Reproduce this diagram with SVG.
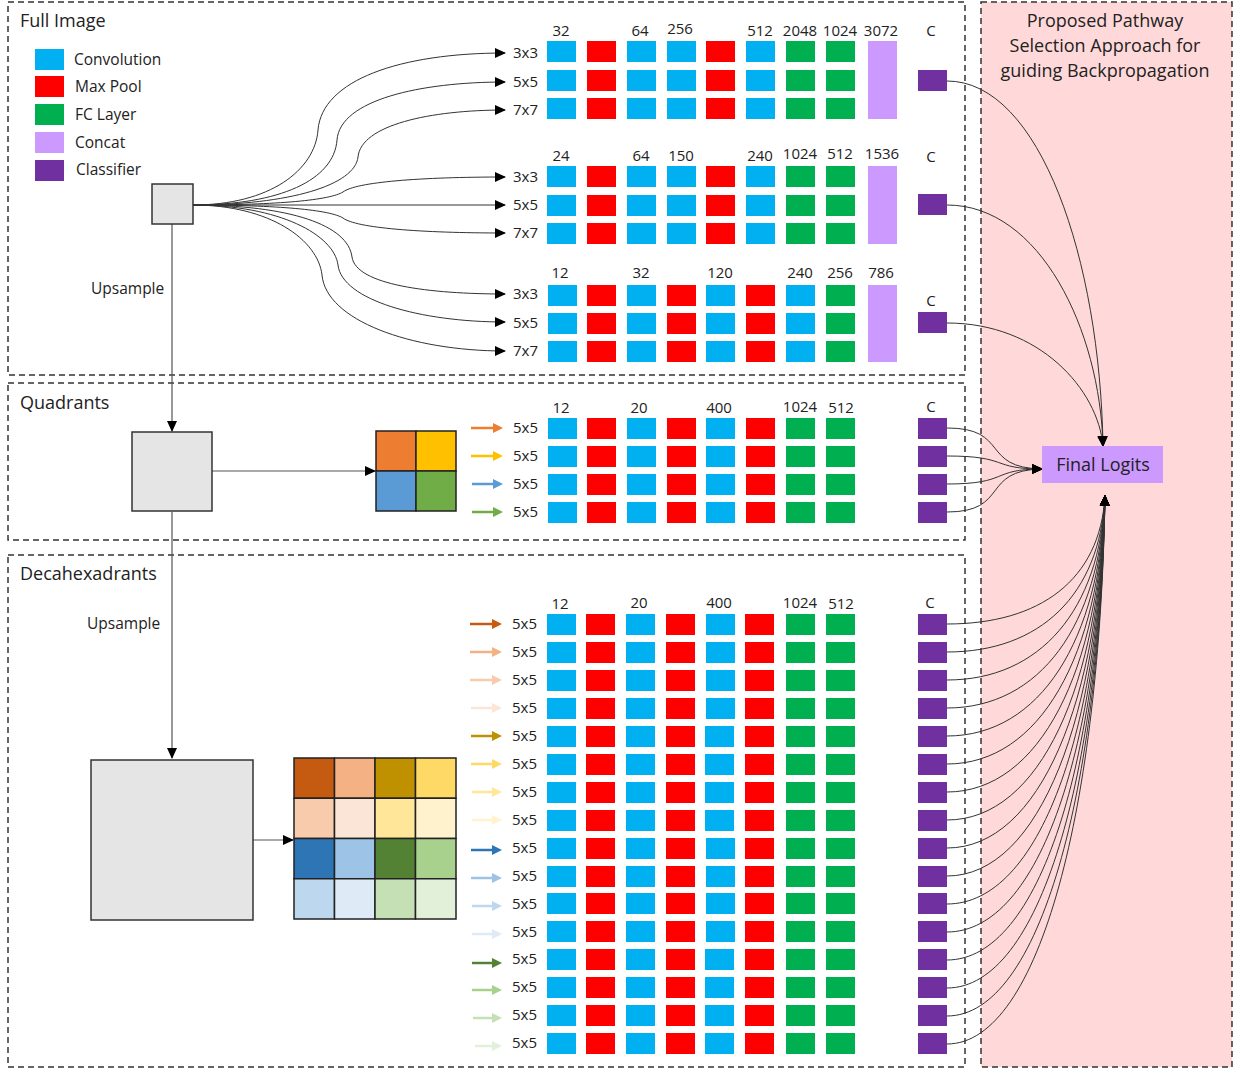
<svg xmlns="http://www.w3.org/2000/svg" xmlns:xlink="http://www.w3.org/1999/xlink" width="1237" height="1070" viewBox="0 0 1237 1070">
<style>
text{font-family:"Open Sans","Noto Sans",sans-serif;fill:#222}
.t{font-size:18px}
.l{font-size:15.5px}
.k{font-size:15px}
.n{font-size:15px;text-anchor:middle}
.p{font-size:18px;text-anchor:middle}
.panel{fill:none;stroke:#333;stroke-width:1.5;stroke-dasharray:6 4}
.cv{fill:#00B0F0}
.mp{fill:#FF0000}
.fc{fill:#00B050}
.cc{fill:#CC99FF}
.cl{fill:#7030A0}
.img{fill:#E5E5E5;stroke:#333;stroke-width:1.5}
.con{fill:none;stroke:#333;stroke-width:1}
.grid{stroke:#222;stroke-width:1.5}
</style>
<defs>
<marker id="ah" markerWidth="11" markerHeight="10" refX="10" refY="5" orient="auto" markerUnits="userSpaceOnUse"><path d="M0,0 L11,5 L0,10z" fill="#000"/></marker>
<rect id="C" width="29" height="21" class="cv"/>
<rect id="P" width="29" height="21" class="mp"/>
<rect id="F" width="29" height="21" class="fc"/>
<rect id="K" width="29" height="21" class="cl"/>
</defs>

<rect x="981" y="2" width="251" height="1065" fill="#FFD9D9"/>
<rect class="panel" x="981" y="2" width="251" height="1065"/>
<rect class="panel" x="8" y="2" width="957" height="373"/>
<rect class="panel" x="8" y="383" width="957" height="157"/>
<rect class="panel" x="8" y="555" width="957" height="512"/>

<text class="t" x="20" y="27">Full Image</text>
<text class="t" x="20" y="409">Quadrants</text>
<text class="t" x="20" y="580">Decahexadrants</text>
<g id="pathway-title">
<text class="p" x="1105" y="27">Proposed Pathway</text>
<text class="p" x="1105" y="52">Selection Approach  for</text>
<text class="p" x="1105" y="77">guiding Backpropagation</text>
</g>

<g id="legend">
<rect class="cv" x="35" y="49" width="29" height="21"/><text class="l" x="74" y="65">Convolution</text>
<rect class="mp" x="35" y="76" width="29" height="21"/><text class="l" x="75" y="92">Max Pool</text>
<rect class="fc" x="35" y="104" width="29" height="21"/><text class="l" x="75" y="120">FC Layer</text>
<rect class="cc" x="35" y="132" width="29" height="21"/><text class="l" x="75" y="148">Concat</text>
<rect class="cl" x="35" y="160" width="29" height="21"/><text class="l" x="76" y="175">Classifier</text>
</g>

<g id="connectors">
<path class="con" marker-end="url(#ah)" d="M193,205 C270,205 315,170 318,130 C322,80 400,53 505,53"/>
<path class="con" marker-end="url(#ah)" d="M193,205 C280,205 334,180 337,140 C340,100 420,82 505,82"/>
<path class="con" marker-end="url(#ah)" d="M193,205 C290,205 355,185 358,157 C361,125 430,110 505,110"/>
<path class="con" marker-end="url(#ah)" d="M193,205 C280,205 330,200 343,192 C356,182 420,177 505,177"/>
<path class="con" marker-end="url(#ah)" d="M193,205 L505,205"/>
<path class="con" marker-end="url(#ah)" d="M193,205 C280,205 330,210 343,218 C356,228 420,233 505,233"/>
<path class="con" marker-end="url(#ah)" d="M193,205 C290,205 348,225 352,257 C356,285 430,294 505,294"/>
<path class="con" marker-end="url(#ah)" d="M193,205 C280,205 334,235 338,265 C342,300 420,322 505,322"/>
<path class="con" marker-end="url(#ah)" d="M193,205 C270,205 318,240 322,275 C326,320 410,351 505,351"/>
<path fill="none" stroke="#555" stroke-width="1.2" marker-end="url(#ah)" d="M172,224 L172,431"/>
<path fill="none" stroke="#555" stroke-width="1.2" marker-end="url(#ah)" d="M172,512 L172,758"/>
<path fill="none" stroke="#555" stroke-width="1.2" marker-end="url(#ah)" d="M212,471 L375,471"/>
<path fill="none" stroke="#555" stroke-width="1.2" marker-end="url(#ah)" d="M253,840 L293,840"/>
<path class="con" marker-end="url(#ah)" d="M947,81 C1040,81 1100,260 1103,446"/>
<path class="con" marker-end="url(#ah)" d="M947,205 C1040,205 1100,330 1103,446"/>
<path class="con" marker-end="url(#ah)" d="M947,323 C1040,323 1098,390 1103,446"/>
<path class="con" marker-end="url(#ah)" d="M947,428 C1010,428 980,468 1042,469"/>
<path class="con" marker-end="url(#ah)" d="M947,456 C1010,456 990,469 1042,469"/>
<path class="con" marker-end="url(#ah)" d="M947,484 C1010,484 990,469 1042,469"/>
<path class="con" marker-end="url(#ah)" d="M947,512 C1010,512 980,470 1042,469"/>
<path class="con" marker-end="url(#ah)" d="M947,624 C1040,624 1100,580 1105,496"/>
<path class="con" marker-end="url(#ah)" d="M947,652 C1040,652 1100,595 1105,496"/>
<path class="con" marker-end="url(#ah)" d="M947,680 C1040,680 1100,610 1105,496"/>
<path class="con" marker-end="url(#ah)" d="M947,708 C1040,708 1100,625 1105,496"/>
<path class="con" marker-end="url(#ah)" d="M947,736 C1040,736 1100,640 1105,496"/>
<path class="con" marker-end="url(#ah)" d="M947,764 C1040,764 1100,655 1105,496"/>
<path class="con" marker-end="url(#ah)" d="M947,792 C1040,792 1100,670 1105,496"/>
<path class="con" marker-end="url(#ah)" d="M947,820 C1040,820 1100,685 1105,496"/>
<path class="con" marker-end="url(#ah)" d="M947,848 C1040,848 1100,700 1105,496"/>
<path class="con" marker-end="url(#ah)" d="M947,876 C1040,876 1100,715 1105,496"/>
<path class="con" marker-end="url(#ah)" d="M947,904 C1040,904 1100,730 1105,496"/>
<path class="con" marker-end="url(#ah)" d="M947,932 C1040,932 1100,745 1105,496"/>
<path class="con" marker-end="url(#ah)" d="M947,960 C1040,960 1100,760 1105,496"/>
<path class="con" marker-end="url(#ah)" d="M947,988 C1040,988 1100,775 1105,496"/>
<path class="con" marker-end="url(#ah)" d="M947,1016 C1040,1016 1100,790 1105,496"/>
<path class="con" marker-end="url(#ah)" d="M947,1044 C1040,1044 1100,805 1105,496"/>
</g>

<g id="full-image-input"><rect class="img" x="152" y="184" width="41" height="40"/></g>
<text class="l" x="91" y="294">Upsample</text>
<text class="l" x="87" y="629">Upsample</text>
<g id="quadrant-input"><rect class="img" x="132" y="432" width="80" height="79"/></g>
<g id="quadrant-grid" class="grid">
<rect x="376" y="431" width="40" height="40" fill="#ED7D31"/>
<rect x="416" y="431" width="40" height="40" fill="#FFC000"/>
<rect x="376" y="471" width="40" height="40" fill="#5B9BD5"/>
<rect x="416" y="471" width="40" height="40" fill="#70AD47"/>
</g>
<g id="decahex-input"><rect class="img" x="91" y="760" width="162" height="160"/></g>
<g id="decahex-grid" class="grid">
<rect x="294" y="758" width="40.5" height="40.25" fill="#C55A11"/>
<rect x="334.5" y="758" width="40.5" height="40.25" fill="#F4B183"/>
<rect x="375" y="758" width="40.5" height="40.25" fill="#BF9000"/>
<rect x="415.5" y="758" width="40.5" height="40.25" fill="#FFD966"/>
<rect x="294" y="798.25" width="40.5" height="40.25" fill="#F8CBAD"/>
<rect x="334.5" y="798.25" width="40.5" height="40.25" fill="#FBE5D6"/>
<rect x="375" y="798.25" width="40.5" height="40.25" fill="#FFE699"/>
<rect x="415.5" y="798.25" width="40.5" height="40.25" fill="#FFF2CC"/>
<rect x="294" y="838.5" width="40.5" height="40.25" fill="#2E75B6"/>
<rect x="334.5" y="838.5" width="40.5" height="40.25" fill="#9DC3E6"/>
<rect x="375" y="838.5" width="40.5" height="40.25" fill="#548235"/>
<rect x="415.5" y="838.5" width="40.5" height="40.25" fill="#A9D18E"/>
<rect x="294" y="878.75" width="40.5" height="40.25" fill="#BDD7EE"/>
<rect x="334.5" y="878.75" width="40.5" height="40.25" fill="#DEEBF7"/>
<rect x="375" y="878.75" width="40.5" height="40.25" fill="#C5E0B4"/>
<rect x="415.5" y="878.75" width="40.5" height="40.25" fill="#E2F0D9"/>
</g>

<g id="full-branch-1">
<text class="n" x="561" y="36">32</text><text class="n" x="640" y="36">64</text><text class="n" x="680" y="34">256</text><text class="n" x="760" y="36">512</text><text class="n" x="800" y="36">2048</text><text class="n" x="840" y="36">1024</text><text class="n" x="881" y="36">3072</text><text class="n" x="931" y="36">C</text>
<text class="k" x="513" y="58">3x3</text><text class="k" x="513" y="87">5x5</text><text class="k" x="513" y="115">7x7</text>
<use href="#C" x="547" y="41"/><use href="#P" x="587" y="41"/><use href="#C" x="627" y="41"/><use href="#C" x="667" y="41"/><use href="#P" x="706" y="41"/><use href="#C" x="746" y="41"/><use href="#F" x="786" y="41"/><use href="#F" x="826" y="41"/>
<use href="#C" x="547" y="70"/><use href="#P" x="587" y="70"/><use href="#C" x="627" y="70"/><use href="#C" x="667" y="70"/><use href="#P" x="706" y="70"/><use href="#C" x="746" y="70"/><use href="#F" x="786" y="70"/><use href="#F" x="826" y="70"/>
<use href="#C" x="547" y="98"/><use href="#P" x="587" y="98"/><use href="#C" x="627" y="98"/><use href="#C" x="667" y="98"/><use href="#P" x="706" y="98"/><use href="#C" x="746" y="98"/><use href="#F" x="786" y="98"/><use href="#F" x="826" y="98"/>
<rect class="cc" x="868" y="41" width="29" height="78"/>
<use href="#K" x="918" y="70"/>
</g>
<g id="full-branch-2">
<text class="n" x="561" y="161">24</text><text class="n" x="641" y="161">64</text><text class="n" x="681" y="161">150</text><text class="n" x="760" y="161">240</text><text class="n" x="800" y="159">1024</text><text class="n" x="840" y="159">512</text><text class="n" x="882" y="159">1536</text><text class="n" x="931" y="162">C</text>
<text class="k" x="513" y="182">3x3</text><text class="k" x="513" y="210">5x5</text><text class="k" x="513" y="238">7x7</text>
<use href="#C" x="547" y="166"/><use href="#P" x="587" y="166"/><use href="#C" x="627" y="166"/><use href="#C" x="667" y="166"/><use href="#P" x="706" y="166"/><use href="#C" x="746" y="166"/><use href="#F" x="786" y="166"/><use href="#F" x="826" y="166"/>
<use href="#C" x="547" y="195"/><use href="#P" x="587" y="195"/><use href="#C" x="627" y="195"/><use href="#C" x="667" y="195"/><use href="#P" x="706" y="195"/><use href="#C" x="746" y="195"/><use href="#F" x="786" y="195"/><use href="#F" x="826" y="195"/>
<use href="#C" x="547" y="223"/><use href="#P" x="587" y="223"/><use href="#C" x="627" y="223"/><use href="#C" x="667" y="223"/><use href="#P" x="706" y="223"/><use href="#C" x="746" y="223"/><use href="#F" x="786" y="223"/><use href="#F" x="826" y="223"/>
<rect class="cc" x="868" y="166" width="29" height="78"/>
<use href="#K" x="918" y="194"/>
</g>
<g id="full-branch-3">
<text class="n" x="560" y="278">12</text><text class="n" x="641" y="278">32</text><text class="n" x="720" y="278">120</text><text class="n" x="800" y="278">240</text><text class="n" x="840" y="278">256</text><text class="n" x="881" y="278">786</text><text class="n" x="931" y="306">C</text>
<text class="k" x="513" y="299">3x3</text><text class="k" x="513" y="328">5x5</text><text class="k" x="513" y="356">7x7</text>
<use href="#C" x="548" y="285"/><use href="#P" x="587" y="285"/><use href="#C" x="627" y="285"/><use href="#P" x="667" y="285"/><use href="#C" x="706" y="285"/><use href="#P" x="746" y="285"/><use href="#C" x="786" y="285"/><use href="#F" x="826" y="285"/>
<use href="#C" x="548" y="313"/><use href="#P" x="587" y="313"/><use href="#C" x="627" y="313"/><use href="#P" x="667" y="313"/><use href="#C" x="706" y="313"/><use href="#P" x="746" y="313"/><use href="#C" x="786" y="313"/><use href="#F" x="826" y="313"/>
<use href="#C" x="548" y="341"/><use href="#P" x="587" y="341"/><use href="#C" x="627" y="341"/><use href="#P" x="667" y="341"/><use href="#C" x="706" y="341"/><use href="#P" x="746" y="341"/><use href="#C" x="786" y="341"/><use href="#F" x="826" y="341"/>
<rect class="cc" x="868" y="285" width="29" height="77"/>
<use href="#K" x="918" y="312"/>
</g>

<g id="quadrant-branches">
<text class="n" x="561" y="413">12</text><text class="n" x="639" y="413">20</text><text class="n" x="719" y="413">400</text><text class="n" x="800" y="412">1024</text><text class="n" x="841" y="413">512</text><text class="n" x="931" y="412">C</text>
<g stroke-width="2.5"><g fill="#ED7D31" stroke="#ED7D31"><line x1="471" y1="428" x2="495" y2="428"/><polygon stroke="none" points="493,423 503,428 493,433"/></g>
<g fill="#FFC000" stroke="#FFC000"><line x1="471" y1="456" x2="495" y2="456"/><polygon stroke="none" points="493,451 503,456 493,461"/></g>
<g fill="#5B9BD5" stroke="#5B9BD5"><line x1="472" y1="484" x2="495" y2="484"/><polygon stroke="none" points="493,479 503,484 493,489"/></g>
<g fill="#70AD47" stroke="#70AD47"><line x1="472" y1="512" x2="495" y2="512"/><polygon stroke="none" points="493,507 503,512 493,517"/></g></g>
<text class="k" x="513" y="433">5x5</text><text class="k" x="513" y="461">5x5</text><text class="k" x="513" y="489">5x5</text><text class="k" x="513" y="517">5x5</text>
<use href="#C" x="548" y="418"/><use href="#P" x="587" y="418"/><use href="#C" x="627" y="418"/><use href="#P" x="667" y="418"/><use href="#C" x="706" y="418"/><use href="#P" x="746" y="418"/><use href="#F" x="786" y="418"/><use href="#F" x="826" y="418"/><use href="#K" x="918" y="418"/>
<use href="#C" x="548" y="446"/><use href="#P" x="587" y="446"/><use href="#C" x="627" y="446"/><use href="#P" x="667" y="446"/><use href="#C" x="706" y="446"/><use href="#P" x="746" y="446"/><use href="#F" x="786" y="446"/><use href="#F" x="826" y="446"/><use href="#K" x="918" y="446"/>
<use href="#C" x="548" y="474"/><use href="#P" x="587" y="474"/><use href="#C" x="627" y="474"/><use href="#P" x="667" y="474"/><use href="#C" x="706" y="474"/><use href="#P" x="746" y="474"/><use href="#F" x="786" y="474"/><use href="#F" x="826" y="474"/><use href="#K" x="918" y="474"/>
<use href="#C" x="548" y="502"/><use href="#P" x="587" y="502"/><use href="#C" x="627" y="502"/><use href="#P" x="667" y="502"/><use href="#C" x="706" y="502"/><use href="#P" x="746" y="502"/><use href="#F" x="786" y="502"/><use href="#F" x="826" y="502"/><use href="#K" x="918" y="502"/>
</g>

<g id="decahex-branches">
<text class="n" x="560" y="609">12</text><text class="n" x="639" y="608">20</text><text class="n" x="719" y="608">400</text><text class="n" x="800" y="608">1024</text><text class="n" x="841" y="609">512</text><text class="n" x="930" y="608">C</text>
<g stroke-width="2.5">
<g fill="#C55A11" stroke="#C55A11"><line x1="470" y1="624" x2="494" y2="624"/><polygon stroke="none" points="492,619 502,624 492,629"/></g>
<g fill="#F4B183" stroke="#F4B183"><line x1="470" y1="652" x2="494" y2="652"/><polygon stroke="none" points="492,647 502,652 492,657"/></g>
<g fill="#F8CBAD" stroke="#F8CBAD"><line x1="470" y1="680" x2="494" y2="680"/><polygon stroke="none" points="492,675 502,680 492,685"/></g>
<g fill="#FBE5D6" stroke="#FBE5D6"><line x1="471" y1="708" x2="494" y2="708"/><polygon stroke="none" points="492,703 502,708 492,713"/></g>
<g fill="#BF9000" stroke="#BF9000"><line x1="471" y1="736" x2="494" y2="736"/><polygon stroke="none" points="492,731 502,736 492,741"/></g>
<g fill="#FFD966" stroke="#FFD966"><line x1="471" y1="764" x2="494" y2="764"/><polygon stroke="none" points="492,759 502,764 492,769"/></g>
<g fill="#FFE699" stroke="#FFE699"><line x1="472" y1="792" x2="494" y2="792"/><polygon stroke="none" points="492,787 502,792 492,797"/></g>
<g fill="#FFF2CC" stroke="#FFF2CC"><line x1="472" y1="820" x2="494" y2="820"/><polygon stroke="none" points="492,815 502,820 492,825"/></g>
<g fill="#2E75B6" stroke="#2E75B6"><line x1="471" y1="850" x2="494" y2="850"/><polygon stroke="none" points="492,845 502,850 492,855"/></g>
<g fill="#9DC3E6" stroke="#9DC3E6"><line x1="471" y1="878" x2="494" y2="878"/><polygon stroke="none" points="492,873 502,878 492,883"/></g>
<g fill="#BDD7EE" stroke="#BDD7EE"><line x1="472" y1="906" x2="494" y2="906"/><polygon stroke="none" points="492,901 502,906 492,911"/></g>
<g fill="#DEEBF7" stroke="#DEEBF7"><line x1="472" y1="934" x2="494" y2="934"/><polygon stroke="none" points="492,929 502,934 492,939"/></g>
<g fill="#548235" stroke="#548235"><line x1="472" y1="963" x2="494" y2="963"/><polygon stroke="none" points="492,958 502,963 492,968"/></g>
<g fill="#A9D18E" stroke="#A9D18E"><line x1="472" y1="990" x2="494" y2="990"/><polygon stroke="none" points="492,985 502,990 492,995"/></g>
<g fill="#C5E0B4" stroke="#C5E0B4"><line x1="473" y1="1018" x2="494" y2="1018"/><polygon stroke="none" points="492,1013 502,1018 492,1023"/></g>
<g fill="#E2F0D9" stroke="#E2F0D9"><line x1="475" y1="1046" x2="494" y2="1046"/><polygon stroke="none" points="492,1041 502,1046 492,1051"/></g>
</g>
<g>
<text class="k" x="512" y="629">5x5</text><text class="k" x="512" y="657">5x5</text><text class="k" x="512" y="685">5x5</text><text class="k" x="512" y="713">5x5</text>
<text class="k" x="512" y="741">5x5</text><text class="k" x="512" y="769">5x5</text><text class="k" x="512" y="797">5x5</text><text class="k" x="512" y="825">5x5</text>
<text class="k" x="512" y="853">5x5</text><text class="k" x="512" y="881">5x5</text><text class="k" x="512" y="909">5x5</text><text class="k" x="512" y="937">5x5</text>
<text class="k" x="512" y="964">5x5</text><text class="k" x="512" y="992">5x5</text><text class="k" x="512" y="1020">5x5</text><text class="k" x="512" y="1048">5x5</text>
</g>
<g id="decahex-rows">
<use href="#C" x="547" y="614"/><use href="#P" x="586" y="614"/><use href="#C" x="626" y="614"/><use href="#P" x="666" y="614"/><use href="#C" x="706" y="614"/><use href="#P" x="745" y="614"/><use href="#F" x="786" y="614"/><use href="#F" x="826" y="614"/><use href="#K" x="918" y="614"/>
<use href="#C" x="547" y="642"/><use href="#P" x="586" y="642"/><use href="#C" x="626" y="642"/><use href="#P" x="666" y="642"/><use href="#C" x="706" y="642"/><use href="#P" x="745" y="642"/><use href="#F" x="786" y="642"/><use href="#F" x="826" y="642"/><use href="#K" x="918" y="642"/>
<use href="#C" x="547" y="670"/><use href="#P" x="586" y="670"/><use href="#C" x="626" y="670"/><use href="#P" x="666" y="670"/><use href="#C" x="706" y="670"/><use href="#P" x="745" y="670"/><use href="#F" x="786" y="670"/><use href="#F" x="826" y="670"/><use href="#K" x="918" y="670"/>
<use href="#C" x="547" y="698"/><use href="#P" x="586" y="698"/><use href="#C" x="626" y="698"/><use href="#P" x="666" y="698"/><use href="#C" x="706" y="698"/><use href="#P" x="745" y="698"/><use href="#F" x="786" y="698"/><use href="#F" x="826" y="698"/><use href="#K" x="918" y="698"/>
<use href="#C" x="547" y="726"/><use href="#P" x="586" y="726"/><use href="#C" x="626" y="726"/><use href="#P" x="666" y="726"/><use href="#C" x="705" y="726"/><use href="#P" x="745" y="726"/><use href="#F" x="786" y="726"/><use href="#F" x="826" y="726"/><use href="#K" x="918" y="726"/>
<use href="#C" x="547" y="754"/><use href="#P" x="586" y="754"/><use href="#C" x="626" y="754"/><use href="#P" x="666" y="754"/><use href="#C" x="705" y="754"/><use href="#P" x="745" y="754"/><use href="#F" x="786" y="754"/><use href="#F" x="826" y="754"/><use href="#K" x="918" y="754"/>
<use href="#C" x="547" y="782"/><use href="#P" x="586" y="782"/><use href="#C" x="626" y="782"/><use href="#P" x="666" y="782"/><use href="#C" x="705" y="782"/><use href="#P" x="745" y="782"/><use href="#F" x="786" y="782"/><use href="#F" x="826" y="782"/><use href="#K" x="918" y="782"/>
<use href="#C" x="547" y="810"/><use href="#P" x="586" y="810"/><use href="#C" x="626" y="810"/><use href="#P" x="666" y="810"/><use href="#C" x="705" y="810"/><use href="#P" x="745" y="810"/><use href="#F" x="786" y="810"/><use href="#F" x="826" y="810"/><use href="#K" x="918" y="810"/>
<use href="#C" x="547" y="838"/><use href="#P" x="586" y="838"/><use href="#C" x="626" y="838"/><use href="#P" x="666" y="838"/><use href="#C" x="706" y="838"/><use href="#P" x="745" y="838"/><use href="#F" x="786" y="838"/><use href="#F" x="826" y="838"/><use href="#K" x="918" y="838"/>
<use href="#C" x="547" y="866"/><use href="#P" x="586" y="866"/><use href="#C" x="626" y="866"/><use href="#P" x="666" y="866"/><use href="#C" x="706" y="866"/><use href="#P" x="745" y="866"/><use href="#F" x="786" y="866"/><use href="#F" x="826" y="866"/><use href="#K" x="918" y="866"/>
<use href="#C" x="547" y="893"/><use href="#P" x="586" y="893"/><use href="#C" x="626" y="893"/><use href="#P" x="666" y="893"/><use href="#C" x="706" y="893"/><use href="#P" x="745" y="893"/><use href="#F" x="786" y="893"/><use href="#F" x="826" y="893"/><use href="#K" x="918" y="893"/>
<use href="#C" x="547" y="921"/><use href="#P" x="586" y="921"/><use href="#C" x="626" y="921"/><use href="#P" x="666" y="921"/><use href="#C" x="706" y="921"/><use href="#P" x="745" y="921"/><use href="#F" x="786" y="921"/><use href="#F" x="826" y="921"/><use href="#K" x="918" y="921"/>
<use href="#C" x="547" y="949"/><use href="#P" x="586" y="949"/><use href="#C" x="626" y="949"/><use href="#P" x="666" y="949"/><use href="#C" x="705" y="949"/><use href="#P" x="745" y="949"/><use href="#F" x="786" y="949"/><use href="#F" x="826" y="949"/><use href="#K" x="918" y="949"/>
<use href="#C" x="547" y="977"/><use href="#P" x="586" y="977"/><use href="#C" x="626" y="977"/><use href="#P" x="666" y="977"/><use href="#C" x="705" y="977"/><use href="#P" x="745" y="977"/><use href="#F" x="786" y="977"/><use href="#F" x="826" y="977"/><use href="#K" x="918" y="977"/>
<use href="#C" x="547" y="1005"/><use href="#P" x="586" y="1005"/><use href="#C" x="626" y="1005"/><use href="#P" x="666" y="1005"/><use href="#C" x="705" y="1005"/><use href="#P" x="745" y="1005"/><use href="#F" x="786" y="1005"/><use href="#F" x="826" y="1005"/><use href="#K" x="918" y="1005"/>
<use href="#C" x="547" y="1033"/><use href="#P" x="586" y="1033"/><use href="#C" x="626" y="1033"/><use href="#P" x="666" y="1033"/><use href="#C" x="705" y="1033"/><use href="#P" x="745" y="1033"/><use href="#F" x="786" y="1033"/><use href="#F" x="826" y="1033"/><use href="#K" x="918" y="1033"/>
</g>
</g>

<g id="final-logits">
<rect x="1042" y="446" width="121" height="37" fill="#CC99FF"/>
<text x="1103" y="471" text-anchor="middle" style="font-size:18px">Final Logits</text>
</g>
</svg>
